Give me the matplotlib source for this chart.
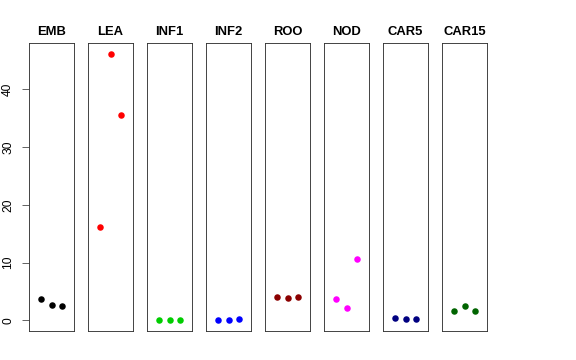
import matplotlib
matplotlib.use('Agg')
import matplotlib.pyplot as plt

# Tissue groups and their three replicate values
groups = ['EMB', 'LEA', 'INF1', 'INF2', 'ROO', 'NOD', 'CAR5', 'CAR15']
colors = ['black', 'red', '#00CD00', 'blue', '#8B0000', 'magenta', '#000080', '#006400']
reps = [1, 2, 3]
values = [
    [3.76, 2.65, 2.42],
    [16.1, 46.2, 35.5],
    [0.0, 0.0, 0.0],
    [0.0, 0.0, 0.23],
    [4.05, 3.87, 4.1],
    [3.76, 2.2, 10.6],
    [0.35, 0.17, 0.23],
    [1.67, 2.43, 1.67],
]
yticks = [0, 10, 20, 30, 40]

plt.rcParams['font.family'] = ['Liberation Sans', 'DejaVu Sans']

W, H = 576, 360
fig = plt.figure(figsize=(W / 72, H / 72), dpi=72)

left0, step, width = 29, 59, 45
top, bottom = 43.3, 331

ymin, ymax = -1.85, 48.0

for i, (name, col, vals) in enumerate(zip(groups, colors, values)):
    x0 = left0 + i * step
    ax = fig.add_axes([x0 / W, (H - bottom) / H, width / W, (bottom - top) / H])
    ax.plot(reps, vals, 'o', color=col, markersize=6.5, markeredgewidth=0)
    ax.set_xlim(-0.16, 4.16)
    ax.set_ylim(ymin, ymax)
    ax.set_xticks([])
    ax.set_title(name, fontsize=13, fontweight='bold', pad=8)
    for s in ax.spines.values():
        s.set_linewidth(0.9)
        s.set_color('#333333')
    if i == 0:
        ax.set_yticks(yticks)
        ax.set_yticklabels([str(t) for t in yticks], rotation=90, va='center', fontsize=12)
        ax.tick_params(axis='y', length=7, width=0.9, pad=8, color='#555555')
    else:
        ax.set_yticks([])

fig.savefig('out.png', dpi=72)
